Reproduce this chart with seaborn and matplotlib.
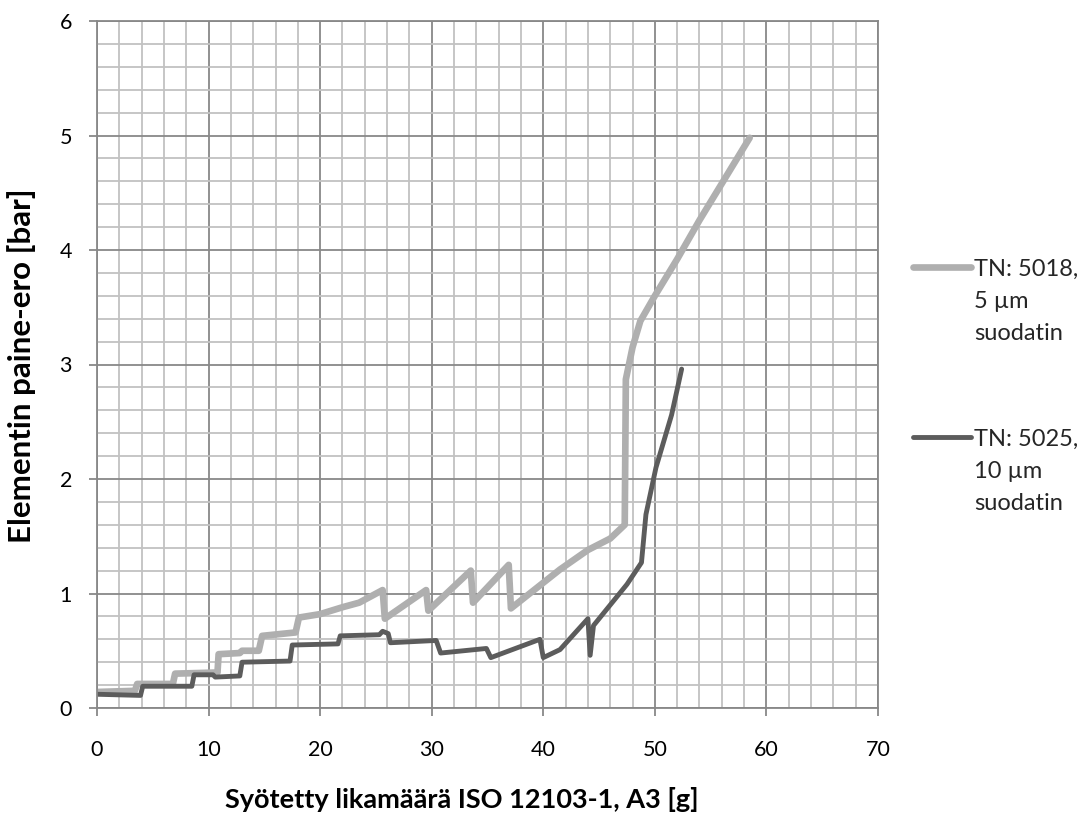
import numpy as np
import pandas as pd
import matplotlib
matplotlib.use("Agg")
import matplotlib.pyplot as plt
import seaborn as sns
from matplotlib.ticker import MultipleLocator

# ---- data ----
light_x = [0.0, 3.4, 3.6, 6.8, 7.0, 10.8, 10.9, 12.8, 13.0, 14.5, 14.8, 17.8, 18.1,
           20.0, 22.0, 23.5, 25.6, 25.8, 29.5, 29.7, 33.5, 33.7, 36.9, 37.1,
           41.5, 44.0, 46.0, 47.3, 47.4, 48.0, 48.7, 50.0, 52.0, 54.0, 56.0, 58.0, 58.5]
light_y = [0.14, 0.15, 0.21, 0.21, 0.30, 0.31, 0.47, 0.48, 0.50, 0.50, 0.63, 0.66, 0.79,
           0.82, 0.88, 0.92, 1.03, 0.78, 1.03, 0.85, 1.20, 0.92, 1.25, 0.87,
           1.21, 1.38, 1.48, 1.60, 2.87, 3.15, 3.38, 3.60, 3.92, 4.26, 4.58, 4.90, 4.98]

dark_x = [0.0, 3.9, 4.1, 8.5, 8.7, 10.4, 10.6, 12.8, 13.0, 17.3, 17.5, 21.6, 21.8,
          25.3, 25.6, 26.1, 26.3, 30.4, 30.8, 34.9, 35.3, 39.7, 40.0, 41.5,
          44.0, 44.2, 44.5, 47.5, 48.8, 49.2, 50.1, 51.5, 52.4]
dark_y = [0.12, 0.11, 0.19, 0.19, 0.29, 0.29, 0.27, 0.28, 0.40, 0.41, 0.55, 0.56, 0.63,
          0.64, 0.67, 0.65, 0.57, 0.59, 0.48, 0.52, 0.44, 0.60, 0.44, 0.51,
          0.78, 0.46, 0.72, 1.08, 1.27, 1.69, 2.10, 2.56, 2.96]

series_labels = ["TN: 5018,\n5 µm\nsuodatin", "TN: 5025,\n10 µm\nsuodatin"]
x_ticks = [0, 10, 20, 30, 40, 50, 60, 70]
y_ticks = [0, 1, 2, 3, 4, 5, 6]
x_label = "Syötetty likamäärä ISO 12103-1, A3 [g]"
y_label = "Elementin paine-ero [bar]"

# ---- styling ----
sns.set_theme(style="white")
plt.rcParams['font.family'] = ['Lato', 'DejaVu Sans']

light_col = "#afafaf"
dark_col = "#5c5c5c"
major_col = "#888888"
minor_col = "#c2c2c2"

fig = plt.figure(figsize=(10.89, 8.16), dpi=100)
ax = fig.add_axes([97 / 1089, 1 - 708 / 816, 781 / 1089, 687 / 816])

df_light = pd.DataFrame({"x": light_x, "y": light_y})
df_dark = pd.DataFrame({"x": dark_x, "y": dark_y})

sns.lineplot(data=df_light, x="x", y="y", sort=False, estimator=None, ax=ax,
             color=light_col, linewidth=4.8, label=series_labels[0],
             solid_capstyle="round", solid_joinstyle="round")
sns.lineplot(data=df_dark, x="x", y="y", sort=False, estimator=None, ax=ax,
             color=dark_col, linewidth=3.5, label=series_labels[1],
             solid_capstyle="round", solid_joinstyle="round")

ax.set_xlim(x_ticks[0], x_ticks[-1])
ax.set_ylim(y_ticks[0], y_ticks[-1])
ax.set_xticks(x_ticks)
ax.set_yticks(y_ticks)
ax.xaxis.set_minor_locator(MultipleLocator(2))
ax.yaxis.set_minor_locator(MultipleLocator(0.2))

ax.set_axisbelow(True)
ax.grid(which="minor", color=minor_col, linewidth=1.3)
ax.grid(which="major", color=major_col, linewidth=1.3)

for s in ax.spines.values():
    s.set_color(major_col)
    s.set_linewidth(1.3)
    s.set_visible(True)

ax.tick_params(which="major", direction="out", length=6, width=1.3, color=major_col,
               labelsize=15.5, labelcolor="black", bottom=True, left=True)
ax.tick_params(which="minor", length=0)
ax.tick_params(axis="x", pad=17)
ax.tick_params(axis="y", pad=12)

ax.set_xlabel(x_label, fontsize=19.5, fontweight="bold", color="black")
ax.set_ylabel(y_label, fontsize=22.5, fontweight="bold", color="black")
ax.xaxis.label.set_va("center")
ax.yaxis.label.set_va("center")
ax.xaxis.set_label_coords((462 - 97) / 781, (708 - 800) / 687)
ax.yaxis.set_label_coords((22 - 97) / 781, (708 - 366) / 687)

leg = ax.legend(loc="upper left", bbox_to_anchor=((913 - 97) / 781, (708 - 259) / 687),
                frameon=False, fontsize=17, handlelength=2.45, handletextpad=0.15,
                labelspacing=3.6, borderaxespad=0, borderpad=0)
for t in leg.get_texts():
    t.set_linespacing(1.65)
# align handle with the first text line
for col in leg._legend_handle_box.get_children():
    for hp in col.get_children():
        hp.align = "top"

fig.savefig("out.png", dpi=100)
